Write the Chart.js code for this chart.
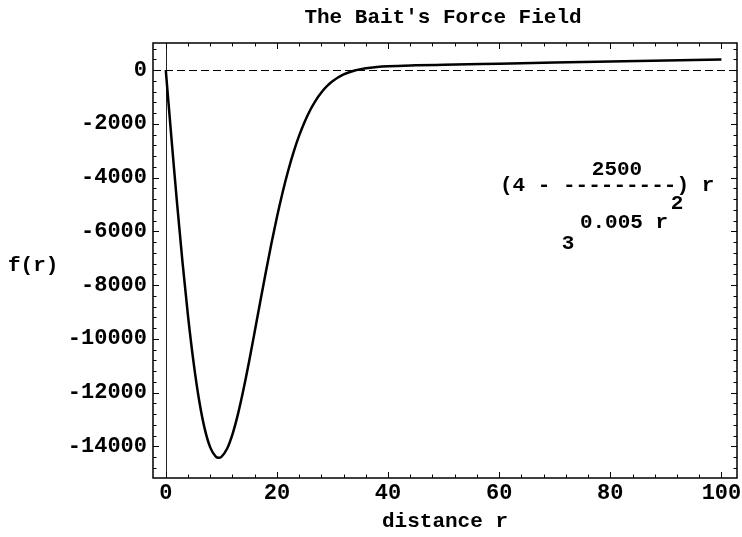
<!DOCTYPE html>
<html>
<head>
<meta charset="utf-8">
<script src="https://cdn.jsdelivr.net/npm/chart.js@4/dist/chart.umd.min.js"></script>
<style>
  html, body { margin: 0; padding: 0; background: #fff; }
  #wrap { width: 742px; height: 537px; }
</style>
</head>
<body>
<div id="wrap"><canvas id="forceChart" width="742" height="537"></canvas></div>
<script>
// distance r and f(r)
const rValues = [0, 0.5, 1, 1.5, 2, 3, 4, 5, 6, 7, 8, 9, 9.5, 10, 11, 12, 13, 14, 15, 16, 17, 18, 19, 20,
                 21, 22, 23, 24, 25, 26, 27, 28, 29, 30, 32, 34, 36, 38, 40, 45, 50, 60, 70, 80, 90, 100];
const fValues = [0, -1246, -2482, -3698, -4883, -7126, -9143, -10876, -12285, -13342, -14039, -14383, -14428,
                 -14394, -14103, -13554, -12793, -11869, -10836, -9738, -8621, -7520, -6462, -5476,
                 -4573, -3764, -3053, -2439, -1918, -1482, -1123, -832, -599, -415, -161, -13, 71, 118, 145,
                 178, 200, 240, 280, 320, 360, 400];

const xTicks = [0, 20, 40, 60, 80, 100];
const yTicks = [0, -2000, -4000, -6000, -8000, -10000, -12000, -14000];

const FONT = '"Liberation Mono", "DejaVu Sans Mono", monospace';

// frame, inward ticks, axis at r=0 and dashed zero line
const framePlugin = {
    id: 'frame',
    beforeDatasetsDraw(chart) {
        const { ctx, chartArea: a, scales: { x, y } } = chart;
        ctx.save();
        // y = 0 dashed
        const y0 = Math.round(y.getPixelForValue(0)) + 0.5;
        ctx.strokeStyle = '#000';
        ctx.lineWidth = 1;
        ctx.setLineDash([8, 4]);
        ctx.beginPath();
        ctx.moveTo(a.left, y0);
        ctx.lineTo(a.right, y0);
        ctx.stroke();
        ctx.setLineDash([]);
        // r = 0 axis
        const x0 = Math.round(x.getPixelForValue(0)) + 0.5;
        ctx.strokeStyle = '#222';
        ctx.beginPath();
        ctx.moveTo(x0, a.top);
        ctx.lineTo(x0, a.bottom);
        ctx.stroke();
        ctx.restore();
    },
    afterDraw(chart) {
        const { ctx, chartArea: a, scales: { x, y } } = chart;
        ctx.save();
        ctx.strokeStyle = '#000';
        ctx.lineWidth = 1.5;
        ctx.strokeRect(a.left, a.top, a.right - a.left, a.bottom - a.top);
        ctx.lineWidth = 1;
        const tick = (px, major, horiz) => {
            const len = major ? 6 : 3.5;
            ctx.beginPath();
            if (horiz) {
                ctx.moveTo(px, a.bottom); ctx.lineTo(px, a.bottom - len);
                ctx.moveTo(px, a.top); ctx.lineTo(px, a.top + len);
            } else {
                ctx.moveTo(a.left, px); ctx.lineTo(a.left + len, px);
                ctx.moveTo(a.right, px); ctx.lineTo(a.right - len, px);
            }
            ctx.stroke();
        };
        for (let v = 0; v <= x.max; v += 4) {
            tick(Math.round(x.getPixelForValue(v)) + 0.5, v % 20 === 0, true);
        }
        for (let v = 800; v >= y.min; v -= 400) {
            tick(Math.round(y.getPixelForValue(v)) + 0.5, v % 2000 === 0, false);
        }
        ctx.fillStyle = '#000';
        ctx.textBaseline = 'middle';
        // title, centred over the frame
        ctx.font = 'bold 21px ' + FONT;
        ctx.textAlign = 'center';
        ctx.fillText("The Bait's Force Field", (a.left + a.right) / 2 - 2, 18);
        // f(r) label
        ctx.textAlign = 'left';
        ctx.fillText('f(r)', 8, 266);
        // formula
        ctx.textAlign = 'center';
        ctx.fillText('2500', 617, 170);
        ctx.textAlign = 'left';
        ctx.fillText('(4 - ---------) r', 500, 186);
        ctx.textAlign = 'center';
        ctx.fillText('2', 677, 204);
        ctx.fillText('0.005 r', 624, 223);
        ctx.fillText('3', 568, 244);
        ctx.restore();
    }
};

new Chart(document.getElementById('forceChart'), {
    type: 'line',
    data: {
        datasets: [{
            data: rValues.map((r, i) => ({ x: r, y: fValues[i] })),
            borderColor: '#000',
            borderWidth: 2.5,
            pointRadius: 0,
            cubicInterpolationMode: 'monotone',
            fill: false
        }]
    },
    options: {
        responsive: false,
        devicePixelRatio: 1,
        animation: false,
        layout: { padding: { left: 0, right: 5, top: 43, bottom: 0 } },
        plugins: {
            legend: { display: false },
            tooltip: { enabled: false },
            title: { display: false }
        },
        scales: {
            x: {
                type: 'linear',
                min: -2.3,
                max: 102.8,
                afterBuildTicks: (s) => { s.ticks = xTicks.map(v => ({ value: v })); },
                afterFit: (s) => { s.height = 59; s.paddingLeft = 0; s.paddingRight = 0; },
                grid: { display: false, drawTicks: false },
                border: { display: false },
                ticks: {
                    color: '#000',
                    padding: 2,
                    maxRotation: 0,
                    font: { family: FONT, size: 22, weight: 'bold' }
                },
                title: {
                    display: true,
                    text: 'distance r',
                    color: '#000',
                    padding: { top: 0, bottom: 3 },
                    font: { family: FONT, size: 21, weight: 'bold' }
                }
            },
            y: {
                type: 'linear',
                min: -15180,
                max: 1010,
                afterBuildTicks: (s) => { s.ticks = yTicks.map(v => ({ value: v })); },
                afterFit: (s) => { s.width = 153; s.paddingTop = 0; s.paddingBottom = 0; },
                grid: { display: false, drawTicks: false },
                border: { display: false },
                ticks: {
                    color: '#000',
                    padding: 6,
                    font: { family: FONT, size: 22, weight: 'bold' },
                    callback: (v) => String(v)
                }
            }
        }
    },
    plugins: [framePlugin]
});
</script>
</body>
</html>
